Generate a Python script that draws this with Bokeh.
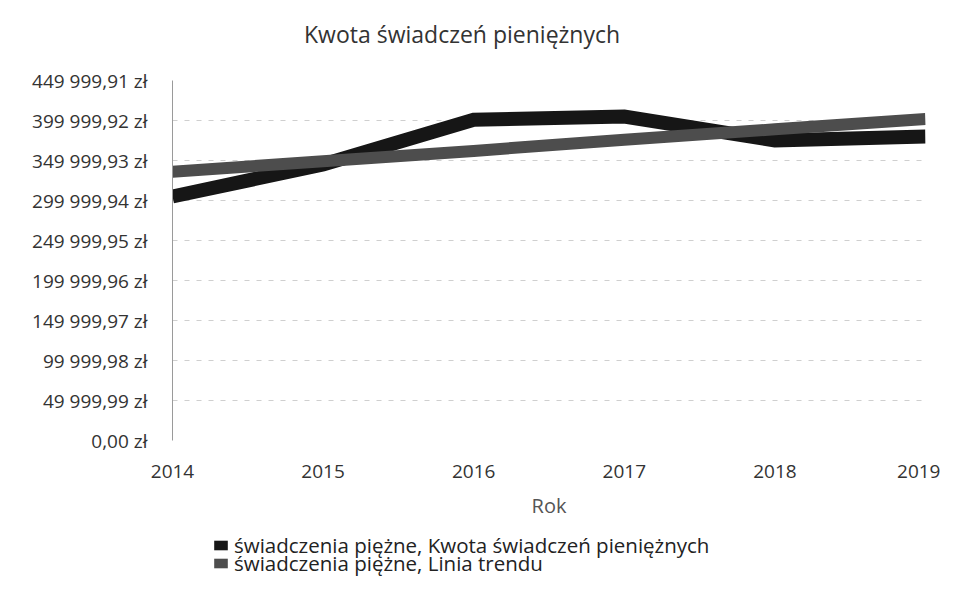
from bokeh.plotting import figure
from bokeh.layouts import column
from bokeh.models import Range1d, FixedTicker, CustomJSTickFormatter, Legend, LegendItem, ColumnDataSource
from bokeh.embed import file_html
from bokeh.resources import INLINE

years = [2014, 2015, 2016, 2017, 2018, 2019]
kwota = [305000, 345000, 401000, 405000, 375000, 380000]
trend = [336000, 349000, 362000, 376000, 389000, 402000]
y_ticks = [0.00, 49999.99, 99999.98, 149999.97, 199999.96, 249999.95,
           299999.94, 349999.93, 399999.92, 449999.91]
title_text = "Kwota świadczeń pieniężnych"
x_label = "Rok"
legend_labels = ["świadczenia piężne, Kwota świadczeń pieniężnych",
                 "świadczenia piężne, Linia trendu"]
series_colors = ["#161616", "#4d4d4d"]

FONT = "Open Sans"


def strip(height):
    f = figure(width=940, height=height, output_backend="svg", toolbar_location=None,
               x_range=Range1d(0, 1), y_range=Range1d(0, 1), min_border=0)
    f.axis.visible = False
    f.grid.visible = False
    f.outline_line_color = None
    f.border_fill_color = "white"
    f.background_fill_color = "white"
    return f


def strip_legend(f, label, color, loc, size, text_color, glyph_w):
    # swatch proxy, kept outside the visible range so only its legend box shows
    q = f.quad(left=[-3], right=[-2], bottom=[-3], top=[-2], fill_color=color, line_color=None)
    leg = Legend(items=[LegendItem(label=label, renderers=[q])], location=loc)
    leg.background_fill_alpha = 0
    leg.border_line_color = None
    leg.padding = 0
    leg.margin = 0
    leg.spacing = 0
    leg.glyph_width = glyph_w
    leg.glyph_height = 12
    leg.label_height = 18
    leg.label_standoff = 5 if glyph_w > 1 else 0
    leg.label_text_font = FONT
    leg.label_text_font_size = size
    leg.label_text_color = text_color
    f.add_layout(leg, "center")


# title strip
top = strip(60)
strip_legend(top, title_text, None, (131, 10), "23px", "#333333", 1)

p = figure(width=940, height=462, output_backend="svg", toolbar_location=None,
           x_range=Range1d(years[0], years[-1]), y_range=Range1d(y_ticks[0], y_ticks[-1]),
           min_border_left=172, min_border_right=15, min_border_top=20, min_border_bottom=82)
p.outline_line_color = None
p.background_fill_color = "white"
p.border_fill_color = "white"

src = ColumnDataSource(dict(x=years, k=kwota, t=trend))
p.line("x", "k", source=src, line_color=series_colors[0], line_width=14, line_join="miter")
p.line("x", "t", source=src, line_color=series_colors[1], line_width=12, line_join="miter")

# axes
p.xaxis.ticker = FixedTicker(ticks=years)
p.xaxis.formatter = CustomJSTickFormatter(code="return tick.toFixed(0);")
p.xaxis.axis_line_color = None
p.xaxis.major_tick_line_color = None
p.xaxis.minor_tick_line_color = None
p.xaxis.major_label_standoff = 18
p.xaxis.major_label_text_font = FONT
p.xaxis.major_label_text_font_size = "19px"
p.xaxis.major_label_text_color = "#333333"
p.xaxis.axis_label = x_label
p.xaxis.axis_label_text_font = FONT
p.xaxis.axis_label_text_font_size = "20px"
p.xaxis.axis_label_text_font_style = "normal"
p.xaxis.axis_label_text_color = "#555555"
p.xaxis.axis_label_standoff = 11

p.yaxis.ticker = FixedTicker(ticks=y_ticks)
p.yaxis.formatter = CustomJSTickFormatter(code="""
const s = tick.toFixed(2);
const parts = s.split('.');
return parts[0].replace(/\\B(?=(\\d{3})+(?!\\d))/g, '\\u00a0') + ',' + parts[1] + ' zł';
""")
p.yaxis.axis_line_color = "#9a9a9a"
p.yaxis.major_tick_line_color = None
p.yaxis.minor_tick_line_color = None
p.yaxis.major_label_standoff = 19
p.yaxis.major_label_text_font = FONT
p.yaxis.major_label_text_font_size = "19px"
p.yaxis.major_label_text_color = "#333333"

p.xgrid.grid_line_color = None
p.ygrid.grid_line_color = "#cfcfcf"
p.ygrid.grid_line_dash = "5 7"

# legend strip below the chart
lg = strip(56)
legend_y = [19, 1]
for lab, col, ly in zip(legend_labels, series_colors, legend_y):
    strip_legend(lg, lab, col, (40, ly), "20.5px", "#222222", 17)

open("out.html", "w").write(file_html(column(top, p, lg, spacing=0), INLINE))
